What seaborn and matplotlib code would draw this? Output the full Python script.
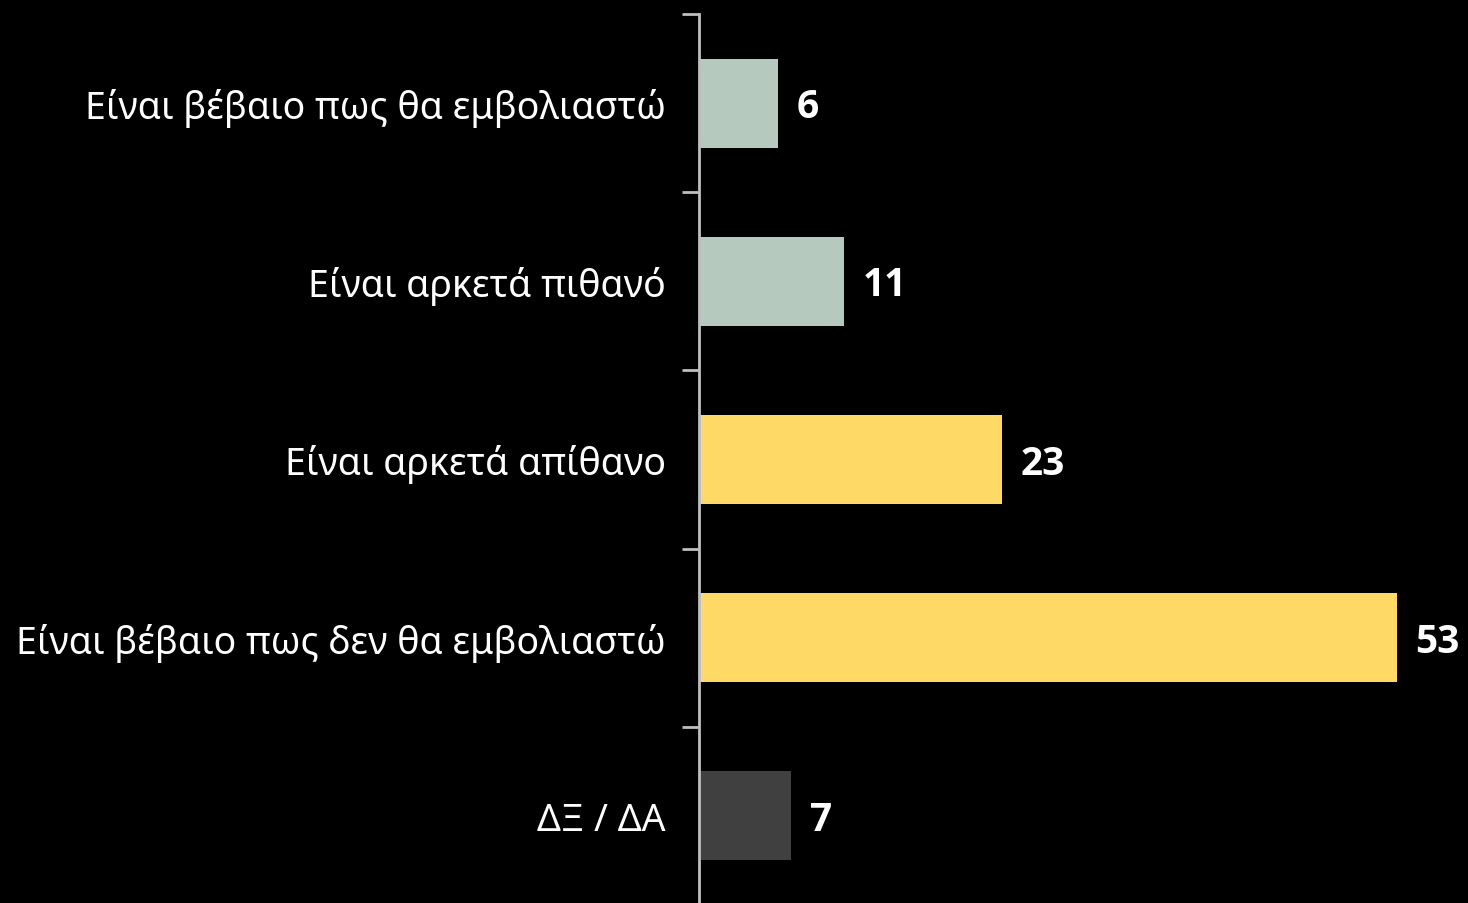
import matplotlib
matplotlib.use("Agg")
import matplotlib.pyplot as plt
import seaborn as sns
import pandas as pd

categories = [
    "Είναι βέβαιο πως θα εμβολιαστώ",
    "Είναι αρκετά πιθανό",
    "Είναι αρκετά απίθανο",
    "Είναι βέβαιο πως δεν θα εμβολιαστώ",
    "ΔΞ / ΔΑ",
]
values = [6, 11, 23, 53, 7]
colors = ["#B5C9BF", "#B5C9BF", "#FFD966", "#FFD966", "#404040"]

df = pd.DataFrame({"label": categories, "value": values})

sns.set_theme(style="white")
plt.rcParams["font.family"] = ["Noto Sans", "DejaVu Sans"]

fig = plt.figure(figsize=(14.68, 9.04), dpi=100, facecolor="black")
# axes runs a little past the bottom edge, as in the original
ax = fig.add_axes([699 / 1468, -2 / 904, 1 - 699 / 1468, 891 / 904])
ax.set_facecolor("black")

sns.barplot(data=df, x="value", y="label", hue="label", palette=colors,
            legend=False, width=0.5, saturation=1, linewidth=0, ax=ax)

ax.set_xlim(0, 58.4)
ax.set_ylim(4.5, -0.5)
ax.set_xlabel("")
ax.set_ylabel("")
ax.set_xticks([])

# ticks on category boundaries, labels in between
ax.set_yticks([i - 0.5 for i in range(len(categories))])
ax.set_yticklabels([])
ax.set_yticks(range(len(categories)), minor=True)
ax.set_yticklabels(categories, minor=True)
ax.tick_params(axis="y", which="major", left=True, length=12, width=2, color="#BFBFBF")
ax.tick_params(axis="y", which="minor", left=False, length=0, pad=24,
               labelsize=27, labelcolor="white")

for side in ["top", "right", "bottom"]:
    ax.spines[side].set_visible(False)
ax.spines["left"].set_color("#BFBFBF")
ax.spines["left"].set_linewidth(2)

for i, v in enumerate(values):
    ax.text(v + 1.4, i + 0.02, str(v), va="center", ha="left", color="white",
            fontsize=28, fontweight="bold", family=["Open Sans", "DejaVu Sans"])

fig.savefig("out.png", dpi=100, facecolor="black")
